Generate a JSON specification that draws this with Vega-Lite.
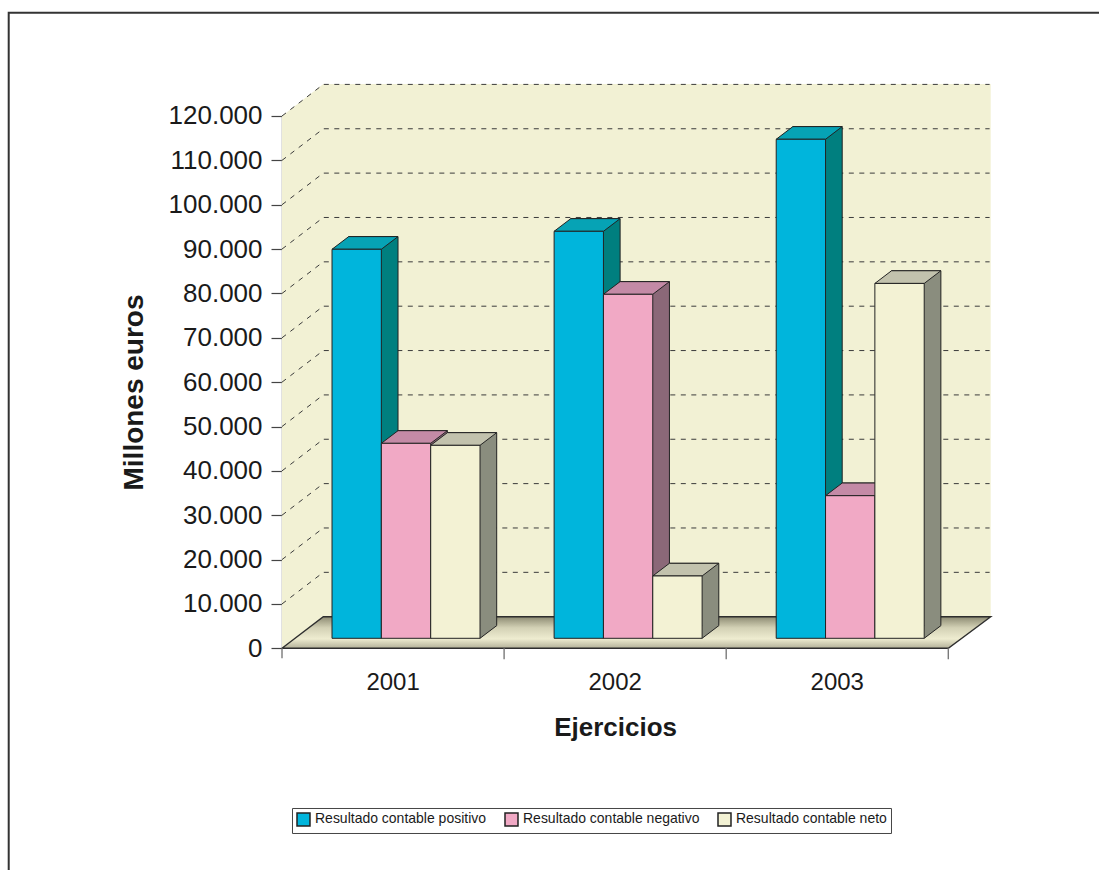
{
  "$schema": "https://vega.github.io/schema/vega-lite/v6.json",
  "autosize": {"type": "none"},
  "padding": {"left": 282, "top": 116, "right": 151, "bottom": 222},
  "width": 666.3,
  "height": 532.3,
  "background": "white",
  "config": {
    "font": "Liberation Sans",
    "view": {"stroke": null},
    "axis": {"labelFont": "Liberation Sans", "titleFont": "Liberation Sans", "labelColor": "#1a1a1a", "titleColor": "#1a1a1a"}
  },
  "datasets": {
    "resultados": [
      {"ejercicio": "2001", "serie": "Resultado contable positivo", "valor": 87700},
      {"ejercicio": "2001", "serie": "Resultado contable negativo", "valor": 43950},
      {"ejercicio": "2001", "serie": "Resultado contable neto", "valor": 43500},
      {"ejercicio": "2002", "serie": "Resultado contable positivo", "valor": 91750},
      {"ejercicio": "2002", "serie": "Resultado contable negativo", "valor": 77550},
      {"ejercicio": "2002", "serie": "Resultado contable neto", "valor": 14050},
      {"ejercicio": "2003", "serie": "Resultado contable positivo", "valor": 112500},
      {"ejercicio": "2003", "serie": "Resultado contable negativo", "valor": 32150},
      {"ejercicio": "2003", "serie": "Resultado contable neto", "valor": 80000}
    ],
    "marcas": [
      {"v": 10000}, {"v": 20000}, {"v": 30000}, {"v": 40000}, {"v": 50000}, {"v": 60000},
      {"v": 70000}, {"v": 80000}, {"v": 90000}, {"v": 100000}, {"v": 110000}, {"v": 120000}
    ],
    "origen": [{"v": 0}]
  },
  "data": {"name": "resultados"},
  "layer": [
    {
      "data": {"name": "origen"},
      "mark": {"type": "point", "shape": "M-111.05,0L-111.05,-532.3L-69.75,-564.3L597.65,-564.3L597.65,-31.6L-69.75,-31.6Z", "size": 4, "filled": true, "fill": "#F2F1D4", "strokeWidth": 0, "opacity": 1},
      "encoding": {
        "x": {"datum": "2001", "type": "nominal", "scale": {"type": "band", "paddingInner": 0.3333, "paddingOuter": 0.1667}},
        "y": {"field": "v", "type": "quantitative"}
      }
    },
    {
      "data": {"name": "marcas"},
      "mark": {"type": "point", "shape": "M-111.05,0L-69.75,-31.6L596.55,-31.6", "size": 4, "filled": false, "stroke": "#3a3a3a", "strokeWidth": 1, "strokeDash": [5, 5.5], "opacity": 1},
      "encoding": {
        "x": {"datum": "2001", "type": "nominal"},
        "y": {"field": "v", "type": "quantitative"}
      }
    },
    {
      "data": {"name": "origen"},
      "mark": {
        "type": "point",
        "shape": "M-111.05,0L-69.75,-31.6L597.65,-31.6L555.25,0Z",
        "size": 4,
        "filled": true,
        "opacity": 1,
        "stroke": "#2e2e2e",
        "strokeWidth": 1.4,
        "fill": {
          "gradient": "linear", "x1": 0, "y1": 0, "x2": 0, "y2": 1,
          "stops": [
            {"offset": 0, "color": "#8C8A72"},
            {"offset": 0.35, "color": "#D3D1B5"},
            {"offset": 0.7, "color": "#EEECD0"},
            {"offset": 1, "color": "#B3B199"}
          ]
        }
      },
      "encoding": {
        "x": {"datum": "2001", "type": "nominal"},
        "y": {"field": "v", "type": "quantitative"}
      }
    },
    {
      "data": {"name": "origen"},
      "mark": {"type": "point", "shape": "M-111.05,0L-111.05,10M111.05,0L111.05,11M333.15,0L333.15,11M555.25,0L555.25,11", "size": 4, "filled": false, "stroke": "#7a7a7a", "strokeWidth": 1.4, "opacity": 1},
      "encoding": {
        "x": {"datum": "2001", "type": "nominal"},
        "y": {"field": "v", "type": "quantitative"}
      }
    },
    {
      "data": {"name": "origen"},
      "mark": {"type": "point", "shape": "M-384.35,225L-384.35,-635.6L708.95,-635.6", "size": 4, "filled": false, "stroke": "#333333", "strokeWidth": 2, "opacity": 1},
      "encoding": {
        "x": {"datum": "2001", "type": "nominal"},
        "y": {"field": "v", "type": "quantitative"}
      }
    },
    {
      "mark": {"type": "bar", "stroke": "#222222", "strokeWidth": 1, "yOffset": -22.67, "y2Offset": -22.67},
      "encoding": {
        "x": {"field": "ejercicio", "type": "nominal"},
        "xOffset": {"field": "serie", "type": "nominal", "sort": ["Resultado contable positivo", "Resultado contable negativo", "Resultado contable neto"], "scale": {"type": "band", "range": [29.67, 177.67], "paddingInner": 0, "paddingOuter": 0}},
        "y": {"field": "valor", "type": "quantitative", "stack": null},
        "y2": {"datum": 0},
        "fill": {"field": "serie", "type": "nominal", "legend": null, "scale": {"domain": ["Resultado contable positivo", "Resultado contable negativo", "Resultado contable neto"], "range": ["#007F7F", "#8B6878", "#8A8D7E"]}}
      }
    },
    {
      "mark": {"type": "point", "shape": "M24.67,-10L24.67,-23.3L41.33,-23.3L41.33,-22.67Z", "size": 4, "filled": true, "strokeWidth": 0, "opacity": 1},
      "encoding": {
        "x": {"field": "ejercicio", "type": "nominal"},
        "xOffset": {"field": "serie", "type": "nominal", "sort": ["Resultado contable positivo", "Resultado contable negativo", "Resultado contable neto"], "scale": {"type": "point", "range": [13, 161], "padding": 0.5}},
        "y": {"datum": 0, "type": "quantitative"},
        "fill": {"field": "serie", "type": "nominal", "legend": null, "scale": {"domain": ["Resultado contable positivo", "Resultado contable negativo", "Resultado contable neto"], "range": ["#007F7F", "#8B6878", "#8A8D7E"]}}
      }
    },
    {
      "mark": {"type": "point", "shape": "M24.67,-10L41.33,-22.67", "size": 4, "filled": false, "stroke": "#222222", "strokeWidth": 1, "opacity": 1},
      "encoding": {
        "x": {"field": "ejercicio", "type": "nominal"},
        "xOffset": {"field": "serie", "type": "nominal", "sort": ["Resultado contable positivo", "Resultado contable negativo", "Resultado contable neto"], "scale": {"type": "point", "range": [13, 161], "padding": 0.5}},
        "y": {"datum": 0, "type": "quantitative"}
      }
    },
    {
      "mark": {"type": "point", "shape": "M-24.67,-10L24.67,-10L41.33,-22.67L-8,-22.67Z", "size": 4, "filled": true, "stroke": "#222222", "strokeWidth": 1, "opacity": 1},
      "encoding": {
        "x": {"field": "ejercicio", "type": "nominal"},
        "xOffset": {"field": "serie", "type": "nominal", "sort": ["Resultado contable positivo", "Resultado contable negativo", "Resultado contable neto"], "scale": {"type": "point", "range": [13, 161], "padding": 0.5}},
        "y": {"field": "valor", "type": "quantitative"},
        "fill": {"field": "serie", "type": "nominal", "legend": null, "scale": {"domain": ["Resultado contable positivo", "Resultado contable negativo", "Resultado contable neto"], "range": ["#06A3B5", "#C48AA6", "#C2C2AD"]}}
      }
    },
    {
      "mark": {"type": "bar", "stroke": "#222222", "strokeWidth": 1, "yOffset": -10, "y2Offset": -10},
      "encoding": {
        "x": {
          "field": "ejercicio", "type": "nominal",
          "axis": {
            "title": "Ejercicios", "titleFontSize": 26, "titleFontWeight": "bold", "titlePadding": 20,
            "labelFontSize": 24, "labelAngle": 0, "labelAlign": "center", "labelPadding": 34,
            "ticks": true, "tickSize": 0, "tickOpacity": 0,
            "domain": false, "grid": false
          }
        },
        "y": {
          "field": "valor", "type": "quantitative", "stack": null,
          "scale": {"domain": [0, 120000], "nice": false, "zero": true},
          "axis": {
            "title": "Millones euros", "titleFontSize": 28, "titleFontWeight": "bold", "titlePadding": 20, "titleY": 276,
            "values": [0, 10000, 20000, 30000, 40000, 50000, 60000, 70000, 80000, 90000, 100000, 110000, 120000],
            "labelExpr": "replace(format(datum.value, ','), ',', '.')",
            "labelFontSize": 26, "labelPadding": 9,
            "tickSize": 11, "tickColor": "#444444", "tickWidth": 1.2,
            "domain": true, "domainColor": "#888888", "domainWidth": 1.5, "grid": false
          }
        },
        "y2": {"datum": 0},
        "xOffset": {"field": "serie", "type": "nominal", "sort": ["Resultado contable positivo", "Resultado contable negativo", "Resultado contable neto"], "scale": {"type": "band", "range": [13, 161], "paddingInner": 0, "paddingOuter": 0}},
        "color": {
          "field": "serie", "type": "nominal",
          "scale": {"domain": ["Resultado contable positivo", "Resultado contable negativo", "Resultado contable neto"], "range": ["#00B5DC", "#F1A9C5", "#F3F2D4"]},
          "legend": {
            "orient": "none", "legendX": 10, "legendY": 692, "direction": "horizontal", "title": null,
            "symbolType": "square", "symbolSize": 169, "symbolStrokeColor": "#222222", "symbolStrokeWidth": 1.5,
            "labelFontSize": 14, "labelFont": "Liberation Sans", "labelColor": "#1a1a1a", "labelOffset": 4, "labelLimit": 400,
            "columnPadding": 15, "padding": 4, "strokeColor": "#444444", "fillColor": "#ffffff"
          }
        }
      }
    }
  ],
  "resolve": {"scale": {"xOffset": "independent", "fill": "independent"}}
}
